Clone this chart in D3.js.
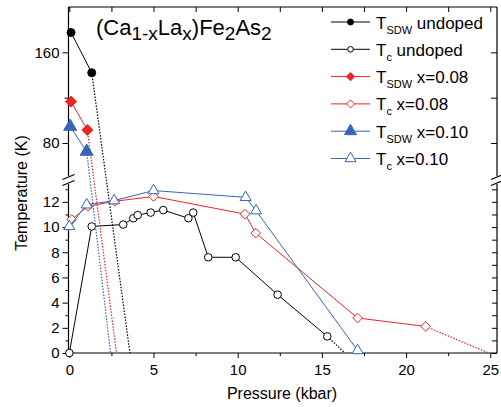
<!DOCTYPE html>
<html>
<head>
<meta charset="utf-8">
<script src="https://cdn.jsdelivr.net/npm/d3@7"></script>
<style>
  body { margin: 0; background: #fff; }
  svg text { font-family: "Liberation Sans", Arial, sans-serif; fill: #000; }
</style>
</head>
<body>
<svg id="chart" width="501" height="407"></svg>
<script>
// pressure (kbar) / temperature (K)
const pSdwUndoped = [0.1, 1.33];
const tSdwUndoped = [177.5, 142];
const pSdw008 = [0.1, 1.07];
const tSdw008 = [116.5, 91.5];
const pSdw010 = [0.05, 1.03];
const tSdw010 = [94.5, 72.5];

const pTcUndoped = [0, 1.33, 3.2, 3.8, 4.06, 4.83, 5.58, 7.07, 7.36, 8.25, 9.88, 12.37, 15.32];
const tTcUndoped = [0, 10.05, 10.2, 10.7, 10.95, 11.15, 11.35, 10.7, 11.15, 7.6, 7.6, 4.63, 1.32];
const pTc008 = [0.14, 1.1, 2.7, 5.0, 10.43, 11.07, 17.12, 21.16];
const tTc008 = [10.6, 11.65, 12.05, 12.43, 11.03, 9.52, 2.78, 2.11];
const pTc010 = [0, 1.03, 2.66, 5.0, 10.47, 11.09, 17.12];
const tTc010 = [10.05, 11.77, 12.1, 12.9, 12.36, 11.3, 0.2];

// where the dotted extrapolations hit T = 0
const sdwZeroP = [3.6, 2.8, 2.45];
const tcUndopedZeroP = 16.37;
const tc008ZeroP = 24.9;

const xTicks = [0, 5, 10, 15, 20, 25];
const xMinorTicks = [2.5, 7.5, 12.5, 17.5, 22.5];
const yTopTicks = [80, 160];
const yTopMinor = [120];
const yBotTicks = [0, 2, 4, 6, 8, 10, 12];
const yBotMinor = [1, 3, 5, 7, 9, 11, 13];

const RED = '#f0222a';
const BLUE = '#3566b8';
const BLACK = '#000';

const LEFT = 68.5, RIGHT = 497, TOP = 7, BOTTOM = 353;
const TOP_PANEL_BOTTOM = 177, BOT_PANEL_TOP = 183;

const svg = d3.select('#chart');
const x = d3.scaleLinear().domain([-0.05, 25.4]).range([LEFT, RIGHT]);
const yTop = d3.scaleLinear().domain([50, 200]).range([TOP_PANEL_BOTTOM, TOP]);
const yBot = d3.scaleLinear().domain([0, 13.5]).range([BOTTOM, BOT_PANEL_TOP]);

function zip(ps, ts) { return ps.map((p, i) => [p, ts[i]]); }

// marker shapes
function markerPath(shape, s) {
  if (shape === 'circle') {
    return d3.path().arc ? `M${s},0A${s},${s},0,1,1,${-s},0A${s},${s},0,1,1,${s},0Z` : '';
  }
  if (shape === 'diamond') {
    return `M0,${-s}L${s},0L0,${s}L${-s},0Z`;
  }
  // triangle, s = half width
  const h = s * Math.sqrt(3);
  return `M0,${-h * 2 / 3}L${s},${h / 3}L${-s},${h / 3}Z`;
}

// ---------- axes ----------
function styleAxis(g) {
  g.select('.domain').remove();
  g.selectAll('line').attr('stroke', '#000').attr('stroke-width', 1);
  g.selectAll('text').attr('font-size', '15px').style('font-family', '"Liberation Sans", Arial, sans-serif');
}

svg.append('g').attr('transform', `translate(0,${BOTTOM})`)
  .call(d3.axisBottom(x).tickValues(xTicks).tickSize(5).tickPadding(6).tickFormat(d3.format('d')))
  .call(styleAxis);
svg.append('g').attr('transform', `translate(0,${BOTTOM})`)
  .call(d3.axisBottom(x).tickValues(xMinorTicks).tickSize(3).tickFormat(''))
  .call(styleAxis);
svg.append('g').attr('transform', `translate(0,${TOP})`)
  .call(d3.axisTop(x).tickValues(xTicks.concat(xMinorTicks)).tickSize(-5).tickFormat(''))
  .call(styleAxis);

svg.append('g').attr('transform', `translate(${LEFT},0)`)
  .call(d3.axisLeft(yTop).tickValues(yTopTicks).tickSize(6).tickPadding(3))
  .call(styleAxis);
svg.append('g').attr('transform', `translate(${LEFT},0)`)
  .call(d3.axisLeft(yTop).tickValues(yTopMinor).tickSize(4).tickFormat(''))
  .call(styleAxis);
svg.append('g').attr('transform', `translate(${LEFT},0)`)
  .call(d3.axisLeft(yBot).tickValues(yBotTicks).tickSize(6).tickPadding(3))
  .call(styleAxis);
svg.append('g').attr('transform', `translate(${LEFT},0)`)
  .call(d3.axisLeft(yBot).tickValues(yBotMinor).tickSize(3).tickFormat(''))
  .call(styleAxis);

svg.append('g').attr('transform', `translate(${RIGHT},0)`)
  .call(d3.axisRight(yTop).tickValues(yTopTicks.concat(yTopMinor)).tickSize(-6).tickFormat(''))
  .call(styleAxis);
svg.append('g').attr('transform', `translate(${RIGHT},0)`)
  .call(d3.axisRight(yBot).tickValues(yBotTicks.concat(yBotMinor)).tickSize(-5).tickFormat(''))
  .call(styleAxis);

// frame with axis break
const frame = svg.append('g').attr('stroke', '#000').attr('stroke-width', 1.2).attr('fill', 'none');
frame.append('line').attr('x1', LEFT).attr('x2', RIGHT).attr('y1', TOP).attr('y2', TOP);
frame.append('line').attr('x1', LEFT).attr('x2', RIGHT).attr('y1', BOTTOM).attr('y2', BOTTOM);
[LEFT, RIGHT].forEach(function(xx) {
  frame.append('line').attr('x1', xx).attr('x2', xx).attr('y1', TOP).attr('y2', TOP_PANEL_BOTTOM - 1);
  frame.append('line').attr('x1', xx).attr('x2', xx).attr('y1', BOT_PANEL_TOP + 1).attr('y2', BOTTOM);
  [TOP_PANEL_BOTTOM, BOT_PANEL_TOP].forEach(function(yy) {
    frame.append('line').attr('x1', xx - 6).attr('y1', yy + 2.5).attr('x2', xx + 6).attr('y2', yy - 2.5);
  });
});

// ---------- data ----------
const lineGen = d3.line();

function drawSdw(ps, ts, zeroP, color, shape, size) {
  const pts = zip(ps, ts).map(d => [x(d[0]), yTop(d[1])]);
  svg.append('path').attr('d', lineGen(pts)).attr('fill', 'none')
    .attr('stroke', color).attr('stroke-width', 1);
  const last = pts[pts.length - 1];
  svg.append('path').attr('d', lineGen([last, [x(zeroP), yBot(0)]])).attr('fill', 'none')
    .attr('stroke', color).attr('stroke-width', 1.2).attr('stroke-dasharray', '1.5,1.5');
  svg.selectAll(null).data(pts).enter().append('path')
    .attr('transform', d => `translate(${d[0]},${d[1]})`)
    .attr('d', markerPath(shape, size))
    .attr('fill', color).attr('stroke', color).attr('stroke-width', 1);
}

function drawTc(ps, ts, zeroP, color, shape, size) {
  const pts = zip(ps, ts).map(d => [x(d[0]), yBot(d[1])]);
  svg.append('path').attr('d', lineGen(pts)).attr('fill', 'none')
    .attr('stroke', color).attr('stroke-width', 1);
  if (zeroP != null) {
    const last = pts[pts.length - 1];
    svg.append('path').attr('d', lineGen([last, [x(zeroP), yBot(0)]])).attr('fill', 'none')
      .attr('stroke', color).attr('stroke-width', 1.2).attr('stroke-dasharray', '1.5,1.5');
  }
  svg.selectAll(null).data(pts).enter().append('path')
    .attr('transform', d => `translate(${d[0]},${d[1]})`)
    .attr('d', markerPath(shape, size))
    .attr('fill', '#fff').attr('stroke', color).attr('stroke-width', 1);
}

drawSdw(pSdwUndoped, tSdwUndoped, sdwZeroP[0], BLACK, 'circle', 4);
drawTc(pTcUndoped, tTcUndoped, tcUndopedZeroP, BLACK, 'circle', 3.8);
drawSdw(pSdw008, tSdw008, sdwZeroP[1], RED, 'diamond', 5.5);
drawTc(pTc008, tTc008, tc008ZeroP, RED, 'diamond', 4.8);
drawSdw(pSdw010, tSdw010, sdwZeroP[2], BLUE, 'triangle', 6.5);
drawTc(pTc010, tTc010, null, BLUE, 'triangle', 5.5);

// ---------- title ----------
const title = svg.append('text').attr('x', 96).attr('y', 35).attr('font-size', '22px');
[['(Ca', 0], ['1-x', 1], ['La', 0], ['x', 1], [')Fe', 0], ['2', 1], ['As', 0], ['2', 1]]
  .forEach(function(part, i, arr) {
    const prev = i > 0 ? arr[i - 1][1] : 0;
    const dy = part[1] === prev ? 0 : (part[1] ? 5 : -5);
    title.append('tspan').attr('dy', dy).attr('font-size', part[1] ? '19px' : '22px').text(part[0]);
  });

// ---------- legend ----------
const legendRows = [
  { sub: 'SDW', rest: ' undoped', color: BLACK, shape: 'circle', size: 3, filled: true },
  { sub: 'c', rest: ' undoped', color: BLACK, shape: 'circle', size: 2.8, filled: false },
  { sub: 'SDW', rest: ' x=0.08', color: RED, shape: 'diamond', size: 4.2, filled: true },
  { sub: 'c', rest: ' x=0.08', color: RED, shape: 'diamond', size: 4, filled: false },
  { sub: 'SDW', rest: ' x=0.10', color: BLUE, shape: 'triangle', size: 6, filled: true },
  { sub: 'c', rest: ' x=0.10', color: BLUE, shape: 'triangle', size: 5.5, filled: false }
];
const legend = svg.append('g');
legendRows.forEach(function(r, i) {
  const cy = 22 + i * 27.3;
  legend.append('line').attr('x1', 331).attr('x2', 370).attr('y1', cy).attr('y2', cy)
    .attr('stroke', r.color).attr('stroke-width', 1);
  legend.append('path').attr('transform', `translate(350.5,${cy})`)
    .attr('d', markerPath(r.shape, r.size))
    .attr('fill', r.filled ? r.color : '#fff').attr('stroke', r.color).attr('stroke-width', 1);
  const t = legend.append('text').attr('x', 376).attr('y', cy + 6.5).attr('font-size', '17px');
  t.append('tspan').text('T');
  t.append('tspan').attr('dy', 5).attr('font-size', '11px').text(r.sub);
  t.append('tspan').attr('dy', -5).text(r.rest);
});

// ---------- axis titles ----------
svg.append('text').attr('x', 282).attr('y', 399).attr('text-anchor', 'middle')
  .attr('font-size', '16px').text('Pressure (kbar)');
svg.append('text').attr('transform', 'translate(27,193) rotate(-90)').attr('text-anchor', 'middle')
  .attr('font-size', '16px').text('Temperature (K)');
</script>
</body>
</html>
